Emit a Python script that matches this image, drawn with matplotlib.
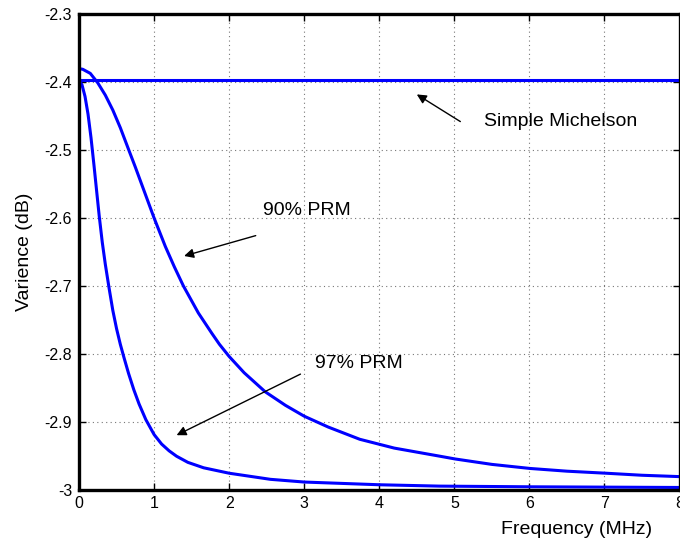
import matplotlib
matplotlib.use('Agg')
import matplotlib.pyplot as plt

plt.rcParams['font.family'] = ['Liberation Sans', 'DejaVu Sans']

# values (frequency in MHz, variance in dB)
michelson_f = [0.0, 8.0]
michelson_v = [-2.397, -2.397]

prm90_f = [0.0, 0.05, 0.15, 0.25, 0.35, 0.45, 0.55, 0.66, 0.75, 0.84, 0.92, 1.0,
           1.15, 1.27, 1.39, 1.59, 1.77, 1.87, 2.0, 2.2, 2.48, 2.75, 3.0, 3.32,
           3.74, 4.2, 4.81, 5.01, 5.5, 6.01, 6.5, 7.02, 7.5, 8.0]
prm90_v = [-2.380, -2.381, -2.387, -2.401, -2.419, -2.441, -2.467, -2.499, -2.525,
           -2.552, -2.576, -2.600, -2.642, -2.672, -2.700, -2.740, -2.770, -2.786,
           -2.804, -2.828, -2.856, -2.876, -2.892, -2.908, -2.926, -2.939, -2.951,
           -2.955, -2.963, -2.969, -2.973, -2.976, -2.979, -2.981]

prm97_f = [0.0, 0.04, 0.08, 0.12, 0.16, 0.20, 0.24, 0.27, 0.31, 0.35, 0.40, 0.45,
           0.50, 0.55, 0.60, 0.66, 0.73, 0.80, 0.89, 1.0, 1.1, 1.2, 1.3, 1.45,
           1.66, 2.0, 2.55, 3.0, 4.0, 4.8, 6.0, 8.0]
prm97_v = [-2.397, -2.404, -2.421, -2.447, -2.482, -2.523, -2.566, -2.598, -2.636,
           -2.668, -2.703, -2.736, -2.763, -2.786, -2.806, -2.829, -2.853, -2.874,
           -2.897, -2.919, -2.933, -2.943, -2.951, -2.960, -2.968, -2.976, -2.985,
           -2.989, -2.993, -2.995, -2.996, -2.997]

xticks = [0, 1, 2, 3, 4, 5, 6, 7, 8]
yticks = [-3, -2.9, -2.8, -2.7, -2.6, -2.5, -2.4, -2.3]
yticklabels = ['-3', '-2.9', '-2.8', '-2.7', '-2.6', '-2.5', '-2.4', '-2.3']

fig = plt.figure(figsize=(6.8, 5.4), dpi=100)
ax = fig.add_axes([0.1162, 0.0935, 0.8831, 0.88])

blue = (0, 0, 1)
ax.plot(michelson_f, michelson_v, color=blue, lw=2.2)
ax.plot(prm90_f, prm90_v, color=blue, lw=2.2)
ax.plot(prm97_f, prm97_v, color=blue, lw=2.2)

ax.set_xlim(0, 8)
ax.set_ylim(-3, -2.3)
ax.set_xticks(xticks)
ax.set_yticks(yticks)
ax.set_yticklabels(yticklabels)
ax.tick_params(direction='in', top=True, right=True, length=5, width=1,
               labelsize=11.5, pad=5)
ax.grid(True, color='#777777', linestyle=(0, (1, 3)), lw=0.8)
for s in ax.spines.values():
    s.set_linewidth(2.4)

ax.set_xlabel('Frequency (MHz)', fontsize=14)
ax.xaxis.set_label_coords(0.829, -0.066)
ax.set_ylabel('Varience (dB)', fontsize=14, labelpad=8)

arrow = dict(arrowstyle='-|>', color='black', lw=1, mutation_scale=14,
             shrinkA=0, shrinkB=0)
ax.annotate('', xy=(4.50, -2.418), xytext=(5.08, -2.458), arrowprops=arrow)
ax.text(5.40, -2.458, 'Simple Michelson', fontsize=14, va='center', ha='left')

ax.annotate('', xy=(1.40, -2.656), xytext=(2.354, -2.626), arrowprops=arrow)
ax.text(2.45, -2.589, '90% PRM', fontsize=14, va='center', ha='left')

ax.annotate('', xy=(1.30, -2.920), xytext=(2.95, -2.830), arrowprops=arrow)
ax.text(3.14, -2.815, '97% PRM', fontsize=14, va='center', ha='left')

fig.savefig('out.png', dpi=100)
